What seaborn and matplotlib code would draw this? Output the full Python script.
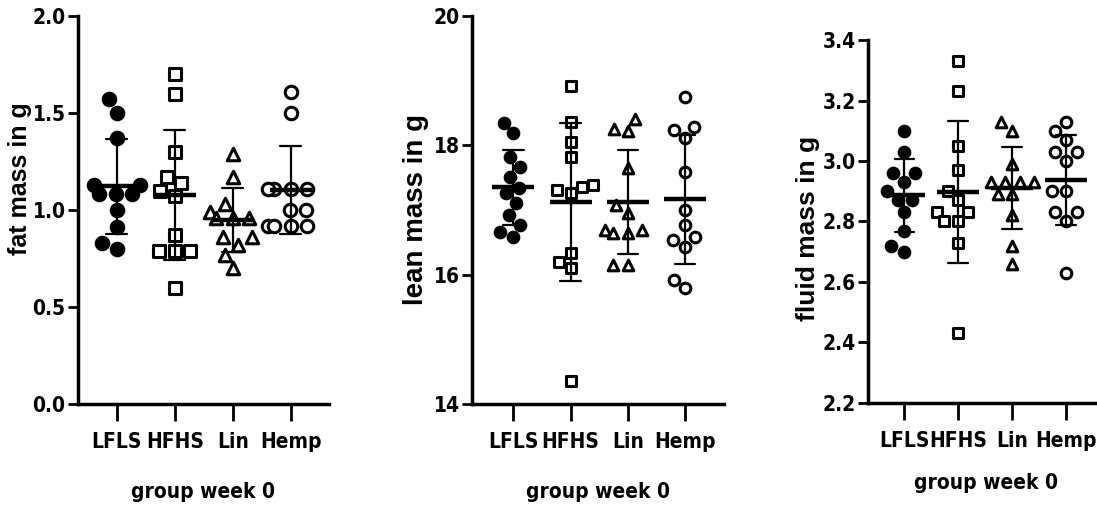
import pandas as pd
import matplotlib.pyplot as plt
import seaborn as sns
from matplotlib import font_manager

# Values (12 animals per group, week 0)
groups = ["LFLS", "HFHS", "Lin", "Hemp"]

fat_lfls = [1.57, 1.50, 1.37, 1.13, 1.13, 1.08, 1.08, 1.08, 1.00, 0.91, 0.83, 0.80]
fat_hfhs = [1.70, 1.60, 1.30, 1.17, 1.14, 1.10, 1.07, 0.87, 0.79, 0.79, 0.79, 0.60]
fat_lin = [1.29, 1.17, 1.03, 0.99, 0.96, 0.96, 0.96, 0.86, 0.86, 0.82, 0.77, 0.70]
fat_hemp = [1.61, 1.50, 1.11, 1.11, 1.11, 1.11, 1.00, 1.00, 0.92, 0.92, 0.92, 0.92]

lean_lfls = [18.35, 18.19, 17.82, 17.67, 17.51, 17.34, 17.26, 17.11, 16.92, 16.77, 16.66, 16.58]
lean_hfhs = [18.92, 18.36, 18.05, 17.82, 17.39, 17.36, 17.31, 17.26, 16.34, 16.20, 16.10, 14.35]
lean_lin = [18.40, 18.25, 18.22, 17.65, 17.08, 16.95, 16.69, 16.64, 16.64, 16.69, 16.15, 16.15]
lean_hemp = [18.75, 18.28, 18.24, 18.11, 17.59, 17.00, 16.77, 16.58, 16.54, 16.43, 15.92, 15.79]

fluid_lfls = [3.10, 3.03, 2.96, 2.96, 2.93, 2.90, 2.87, 2.87, 2.83, 2.77, 2.72, 2.70]
fluid_hfhs = [3.33, 3.23, 3.05, 2.97, 2.90, 2.87, 2.83, 2.83, 2.80, 2.80, 2.73, 2.43]
fluid_lin = [3.13, 3.10, 2.99, 2.93, 2.93, 2.93, 2.93, 2.89, 2.89, 2.82, 2.72, 2.66]
fluid_hemp = [3.13, 3.10, 3.07, 3.03, 3.03, 3.00, 2.90, 2.90, 2.83, 2.83, 2.80, 2.63]

fat_ticks = [0.0, 0.5, 1.0, 1.5, 2.0]
lean_ticks = [14, 16, 18, 20]
fluid_ticks = [2.2, 2.4, 2.6, 2.8, 3.0, 3.2, 3.4]


def long_df(*cols):
    rows = []
    for g, vals in zip(groups, cols):
        for v in vals:
            rows.append({"group": g, "value": v})
    return pd.DataFrame(rows)


df_fat = long_df(fat_lfls, fat_hfhs, fat_lin, fat_hemp)
df_lean = long_df(lean_lfls, lean_hfhs, lean_lin, lean_hemp)
df_fluid = long_df(fluid_lfls, fluid_hfhs, fluid_lin, fluid_hemp)

# Styling
sns.set_theme(style="ticks")
plt.rcParams["font.family"] = ["Liberation Sans", "DejaVu Sans"]
plt.rcParams["font.weight"] = "bold"
plt.rcParams["text.color"] = "black"
plt.rcParams["axes.labelcolor"] = "black"

# pick a narrow bold face for the tick/axis text if one is installed
names = {f.name for f in font_manager.fontManager.ttflist}
dejavu_cond = any(f.name == "DejaVu Sans" and f.stretch == "condensed"
                  for f in font_manager.fontManager.ttflist)
if "Liberation Sans Narrow" in names:
    tick_fp = dict(family="Liberation Sans Narrow", size=17)
    xl_fp = dict(family="Liberation Sans Narrow", size=17)
elif dejavu_cond:
    tick_fp = dict(family="DejaVu Sans", stretch="condensed", size=15)
    xl_fp = dict(family="DejaVu Sans", stretch="condensed", size=15)
else:
    tick_fp = dict(family="Liberation Sans", size=14)
    xl_fp = dict(family="Liberation Sans", size=16)
tick_prop = font_manager.FontProperties(weight="bold", **tick_fp)
xl_prop = font_manager.FontProperties(weight="bold", **xl_fp)

markers = {"LFLS": "o", "HFHS": "s", "Lin": "^", "Hemp": "o"}
faces = {"LFLS": "black", "HFHS": "white", "Lin": "white", "Hemp": "white"}
sizes = {"LFLS": 9, "HFHS": 8.5, "Lin": 9, "Hemp": 9}

fig = plt.figure(figsize=(10.97, 5.11), dpi=100)
ax1 = fig.add_axes([0.0711, 0.2094, 0.2288, 0.7593])
ax2 = fig.add_axes([0.4303, 0.2094, 0.2297, 0.7593])
ax3 = fig.add_axes([0.7913, 0.2114, 0.2150, 0.7103])

# (axis, data, y label, y ticks, tick format, x limits, label size, marker scale,
#  label x, label y, x label pad)
panels = [
    (ax1, df_fat, "fat mass in g", fat_ticks, "{:.1f}", (-0.67, 3.66), 18, 1.0, -0.185, 0.58, 22),
    (ax2, df_lean, "lean mass in g", lean_ticks, "{:d}", (-0.72, 3.68), 20, 0.85, -0.17, 0.5, 22),
    (ax3, df_fluid, "fluid mass in g", fluid_ticks, "{:.1f}", (-0.67, 3.70), 19, 0.85, -0.205, 0.48, 16),
]

for ax, df, ylab, yticks, fmt, xlim, ylab_size, msc, ylab_x, ylab_y, xpad in panels:
    for g in groups:
        sns.swarmplot(data=df[df["group"] == g], x="group", y="value", order=groups,
                      marker=markers[g], color=faces[g], edgecolor="black",
                      linewidth=2.2, size=sizes[g] * msc, ax=ax, zorder=3)
    sns.pointplot(data=df, x="group", y="value", order=groups, errorbar="sd",
                  capsize=0.36, color="black", markers="_", linestyles="none",
                  markersize=30, markeredgewidth=3.2,
                  err_kws={"linewidth": 1.6, "zorder": 4}, zorder=5, ax=ax)

    ax.set_ylim(yticks[0], yticks[-1])
    ax.set_yticks(yticks)
    ax.set_yticklabels([fmt.format(t) for t in yticks])
    ax.set_xlim(*xlim)
    ax.set_xlabel("group week 0", fontproperties=xl_prop, labelpad=xpad)
    ax.set_ylabel(ylab, fontsize=ylab_size, fontweight="bold")
    ax.yaxis.set_label_coords(ylab_x, ylab_y)
    ax.tick_params(axis="both", width=2, colors="black")
    ax.tick_params(axis="x", length=12, pad=8)
    ax.tick_params(axis="y", length=7, pad=2)
    for lab in ax.get_xticklabels() + ax.get_yticklabels():
        lab.set_fontproperties(tick_prop)
    sns.despine(ax=ax)
    for s in ["left", "bottom"]:
        ax.spines[s].set_linewidth(2.5)
        ax.spines[s].set_color("black")

fig.savefig("out.png", dpi=100)
plt.close()
